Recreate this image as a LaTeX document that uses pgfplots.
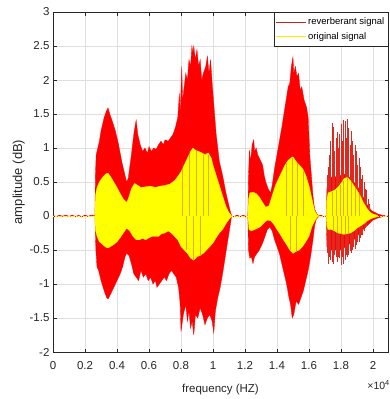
\documentclass[border=0pt]{standalone}
\usepackage{fontspec}
\setmainfont{Liberation Sans}
\usepackage{pgfplots}
\pgfplotsset{compat=1.18}
\definecolor{axgray}{HTML}{262626}
\definecolor{gridgray}{HTML}{DFDFDF}
\definecolor{sigred}{HTML}{FF0000}
\definecolor{sigyel}{HTML}{FFFF00}
\definecolor{spk}{HTML}{E0281E}
\definecolor{spkin}{HTML}{C84A28}
\definecolor{legred}{HTML}{C8201E}
\definecolor{legyel}{HTML}{F0F000}
\begin{document}
\begin{tikzpicture}
\useasboundingbox (-53pt,-47pt) rectangle (337pt,352pt);
\begin{axis}[
  scale only axis, width=335pt, height=340pt,
  xmin=0, xmax=2.094, ymin=-2, ymax=3,
  xtick={0,0.2,...,2.01}, ytick={-2,-1.5,...,3},
  xticklabels={0,0.2,0.4,0.6,0.8,1,1.2,1.4,1.6,1.8,2},
  yticklabels={-2,-1.5,-1,-0.5,0,0.5,1,1.5,2,2.5,3},
  tick align=inside, major tick length=3.5pt,
  xtick pos=both, ytick pos=both,
  grid=major, major grid style={gridgray, line width=0.5pt},
  axis line style={axgray, line width=0.6pt},
  tick style={axgray, line width=0.5pt},
  ticklabel style={font=\fontsize{11.5}{13}\selectfont, text=axgray},
  xticklabel style={yshift=-6pt},
  /pgf/number format/assume math mode=true,
  xlabel={frequency (HZ)}, ylabel={amplitude (dB)},
  xlabel style={font=\fontsize{11.5}{13}\selectfont, text=axgray, yshift=-8pt},
  ylabel style={font=\fontsize{13}{15}\selectfont, text=axgray, yshift=-2pt},
  legend style={at={(rel axis cs:1,1)}, anchor=north east, draw=axgray, line width=0.5pt,
    fill=white, font=\fontsize{9.5}{11}\selectfont, inner xsep=2pt, inner ysep=4pt,
    row sep=3pt, nodes={inner sep=1.5pt}},
  legend cell align=left,
  clip=true,
]
% red envelope, segment 1
\addplot[fill=sigred, draw=sigred, line width=0.3pt, forget plot] coordinates {
(0.262,0.02)(0.265,0.6)(0.27,0.9)(0.28,1.0)(0.29,1.1)(0.30,1.25)(0.31,1.35)(0.32,1.45)(0.335,1.55)(0.344,1.59)(0.355,1.5)(0.37,1.4)(0.39,1.25)(0.41,1.05)(0.43,0.8)(0.45,0.6)(0.46,0.5)(0.47,0.55)(0.49,0.9)(0.505,1.2)(0.515,1.35)(0.52,1.41)(0.53,1.2)(0.545,1.05)(0.56,0.95)(0.575,1.0)(0.59,0.92)(0.60,1.02)(0.615,0.95)(0.63,1.0)(0.645,0.98)(0.66,1.05)(0.675,1.1)(0.69,1.05)(0.70,1.12)(0.72,1.1)(0.735,1.15)(0.75,1.2)(0.765,1.3)(0.78,1.45)(0.79,1.8)(0.795,1.5)(0.805,2.2)(0.81,1.7)(0.82,1.9)(0.83,2.1)(0.84,2.0)(0.85,2.3)(0.86,2.2)(0.868,2.5)(0.875,2.4)(0.88,2.5)(0.89,2.3)(0.90,2.45)(0.91,2.2)(0.92,2.3)(0.93,2.0)(0.94,2.1)(0.955,2.2)(0.965,2.35)(0.975,2.1)(0.985,2.3)(0.995,1.95)(1.0,1.8)(1.01,1.5)(1.02,1.2)(1.03,1.0)(1.04,0.8)(1.06,0.6)(1.08,0.35)(1.10,0.15)(1.11,0.05)(1.115,0.02)
(1.115,-0.02)(1.11,-0.1)(1.09,-0.4)(1.07,-0.7)(1.06,-0.85)(1.045,-1.05)(1.03,-1.2)(1.015,-1.4)(1.005,-1.72)(0.995,-1.55)(0.98,-1.45)(0.965,-1.5)(0.95,-1.6)(0.935,-1.45)(0.92,-1.35)(0.905,-1.5)(0.89,-1.45)(0.88,-1.75)(0.87,-1.55)(0.86,-1.65)(0.85,-1.4)(0.84,-1.55)(0.83,-1.3)(0.815,-1.45)(0.80,-1.7)(0.795,-1.3)(0.785,-1.05)(0.77,-0.9)(0.755,-0.85)(0.74,-0.8)(0.725,-0.85)(0.71,-0.95)(0.695,-0.9)(0.68,-0.95)(0.665,-1.0)(0.65,-1.05)(0.64,-0.95)(0.625,-1.0)(0.61,-0.9)(0.595,-0.95)(0.58,-0.85)(0.565,-0.9)(0.55,-0.8)(0.535,-0.95)(0.52,-0.9)(0.505,-0.85)(0.49,-0.7)(0.475,-0.58)(0.46,-0.55)(0.45,-0.6)(0.435,-0.75)(0.42,-0.85)(0.40,-0.95)(0.38,-1.05)(0.36,-1.15)(0.345,-1.22)(0.335,-1.2)(0.32,-1.1)(0.30,-0.95)(0.285,-0.8)(0.275,-0.75)(0.268,-0.5)(0.262,-0.02)
} -- cycle;
% red envelope, segment 2
\addplot[fill=sigred, draw=sigred, line width=0.3pt, forget plot] coordinates {
(1.218,0.02)(1.222,0.6)(1.228,0.97)(1.235,0.8)(1.245,1.05)(1.255,1.12)(1.26,0.95)(1.27,1.0)(1.28,0.9)(1.29,0.85)(1.30,0.8)(1.31,0.75)(1.32,0.6)(1.33,0.5)(1.345,0.4)(1.36,0.34)(1.37,0.45)(1.385,0.7)(1.40,0.9)(1.415,1.1)(1.43,1.3)(1.44,1.45)(1.45,1.6)(1.46,1.75)(1.47,1.9)(1.48,1.95)(1.49,2.2)(1.50,2.34)(1.505,2.1)(1.515,2.2)(1.525,2.05)(1.535,2.1)(1.545,1.85)(1.555,1.9)(1.57,1.7)(1.585,1.6)(1.595,1.45)(1.605,0.9)(1.615,0.6)(1.625,0.3)(1.635,0.1)(1.65,0.03)(1.66,0.01)
(1.66,-0.01)(1.645,-0.05)(1.635,-0.15)(1.625,-0.35)(1.61,-0.6)(1.595,-0.8)(1.58,-0.95)(1.565,-1.1)(1.55,-1.2)(1.535,-1.3)(1.52,-1.25)(1.505,-1.45)(1.495,-1.5)(1.485,-1.3)(1.475,-1.2)(1.46,-1.0)(1.445,-0.85)(1.43,-0.7)(1.415,-0.55)(1.40,-0.45)(1.385,-0.35)(1.37,-0.22)(1.355,-0.16)(1.34,-0.2)(1.325,-0.3)(1.31,-0.4)(1.29,-0.5)(1.275,-0.55)(1.26,-0.6)(1.25,-0.7)(1.24,-0.6)(1.23,-0.62)(1.222,-0.5)(1.218,-0.02)
} -- cycle;
% red envelope, segment 3 (solid core)
\addplot[fill=sigred, draw=sigred, line width=0.3pt, forget plot] coordinates {
(1.708,0.02)(1.712,0.4)(1.72,0.55)(1.75,0.58)(1.78,0.58)(1.80,0.6)(1.83,0.62)(1.86,0.55)(1.90,0.45)(1.93,0.32)(1.96,0.18)(1.99,0.08)(2.03,0.03)(2.06,0.01)
(2.06,-0.01)(2.03,-0.03)(2.0,-0.06)(1.96,-0.15)(1.93,-0.22)(1.90,-0.3)(1.86,-0.4)(1.83,-0.45)(1.80,-0.5)(1.75,-0.5)(1.72,-0.5)(1.712,-0.45)(1.708,-0.02)
} -- cycle;
% noise (reverberant)
\addplot[sigred, line width=0.8pt, forget plot] coordinates {
(0,0.005)(0.02,-0.01)(0.04,0.01)(0.06,-0.005)(0.08,0.012)(0.10,-0.008)(0.12,0.01)(0.14,-0.01)(0.16,0.008)(0.18,-0.012)(0.20,0.01)(0.22,-0.006)(0.24,0.012)(0.262,0)
};
\addplot[sigred, line width=0.8pt, forget plot] coordinates {
(1.115,0)(1.13,-0.01)(1.15,0.01)(1.17,-0.008)(1.19,0.01)(1.205,-0.01)(1.218,0)
};
\addplot[sigred, line width=0.8pt, forget plot] coordinates {
(1.66,0)(1.675,0.01)(1.69,-0.01)(1.708,0)
};
\addplot[sigred, line width=0.8pt, forget plot] coordinates {
(2.06,0)(2.07,0.008)(2.08,-0.008)(2.094,0)
};
% segment 3 spikes (reverberant)
\addplot[ycomb, spk, line width=0.55pt, mark=none, forget plot] coordinates {
(1.712,0.6)(1.720,0.72)(1.728,0.9)(1.736,1.1)(1.744,1.37)(1.752,1.31)(1.760,0.95)(1.768,1.15)(1.776,1.23)(1.784,1.0)(1.792,1.2)(1.800,1.35)(1.808,1.1)(1.816,1.41)(1.824,1.40)(1.832,1.15)(1.840,1.42)(1.848,1.3)(1.856,1.05)(1.864,1.25)(1.872,1.1)(1.880,0.9)(1.888,1.05)(1.896,0.95)(1.904,0.75)(1.912,0.85)(1.920,0.72)(1.928,0.55)(1.936,0.6)(1.944,0.5)(1.952,0.4)(1.960,0.38)(1.968,0.25)(1.976,0.18)
};
\addplot[ycomb, spk, line width=0.55pt, mark=none, forget plot] coordinates {
(1.712,-0.55)(1.720,-0.7)(1.728,-0.6)(1.736,-0.65)(1.744,-0.68)(1.752,-0.7)(1.760,-0.58)(1.768,-0.6)(1.776,-0.68)(1.784,-0.6)(1.792,-0.62)(1.800,-0.72)(1.808,-0.6)(1.816,-0.7)(1.824,-0.65)(1.832,-0.58)(1.840,-0.6)(1.848,-0.58)(1.856,-0.52)(1.864,-0.55)(1.872,-0.5)(1.880,-0.45)(1.888,-0.48)(1.896,-0.42)(1.904,-0.38)(1.912,-0.38)(1.920,-0.32)(1.928,-0.28)(1.936,-0.28)(1.944,-0.22)(1.952,-0.18)(1.960,-0.15)
};
% yellow envelope, segment 1
\addplot[fill=sigyel, draw=sigyel, line width=0.2pt, forget plot] coordinates {
(0.262,0.02)(0.265,0.3)(0.275,0.42)(0.29,0.5)(0.31,0.57)(0.33,0.62)(0.344,0.63)(0.36,0.58)(0.38,0.5)(0.40,0.42)(0.42,0.33)(0.44,0.25)(0.46,0.2)(0.47,0.25)(0.49,0.4)(0.51,0.48)(0.53,0.45)(0.55,0.42)(0.58,0.43)(0.61,0.44)(0.64,0.42)(0.67,0.44)(0.70,0.45)(0.73,0.47)(0.76,0.52)(0.78,0.58)(0.80,0.65)(0.82,0.75)(0.84,0.85)(0.86,0.95)(0.875,1.0)(0.89,0.97)(0.91,0.95)(0.93,0.93)(0.95,0.9)(0.97,0.93)(0.99,0.85)(1.0,0.75)(1.02,0.6)(1.04,0.45)(1.06,0.3)(1.08,0.15)(1.10,0.05)(1.115,0.01)
(1.115,-0.01)(1.10,-0.05)(1.08,-0.12)(1.06,-0.2)(1.04,-0.25)(1.02,-0.32)(1.0,-0.4)(0.98,-0.45)(0.96,-0.5)(0.94,-0.55)(0.92,-0.58)(0.90,-0.6)(0.88,-0.65)(0.86,-0.62)(0.84,-0.55)(0.82,-0.5)(0.80,-0.45)(0.78,-0.35)(0.76,-0.3)(0.74,-0.25)(0.72,-0.22)(0.70,-0.25)(0.68,-0.26)(0.66,-0.3)(0.64,-0.3)(0.62,-0.3)(0.60,-0.32)(0.58,-0.35)(0.56,-0.33)(0.54,-0.35)(0.52,-0.35)(0.50,-0.3)(0.48,-0.22)(0.46,-0.18)(0.44,-0.25)(0.42,-0.32)(0.40,-0.38)(0.38,-0.42)(0.36,-0.45)(0.345,-0.47)(0.33,-0.46)(0.31,-0.42)(0.29,-0.38)(0.275,-0.3)(0.265,-0.2)(0.262,-0.01)
} -- cycle;
% yellow envelope, segment 2
\addplot[fill=sigyel, draw=sigyel, line width=0.2pt, forget plot] coordinates {
(1.218,0.01)(1.222,0.25)(1.23,0.34)(1.25,0.35)(1.27,0.33)(1.29,0.28)(1.31,0.2)(1.33,0.13)(1.35,0.15)(1.37,0.3)(1.39,0.45)(1.41,0.55)(1.43,0.65)(1.45,0.75)(1.47,0.82)(1.49,0.86)(1.50,0.87)(1.52,0.8)(1.54,0.75)(1.56,0.7)(1.58,0.6)(1.60,0.45)(1.62,0.24)(1.635,0.08)(1.65,0.02)(1.66,0.005)
(1.66,-0.005)(1.65,-0.02)(1.635,-0.08)(1.62,-0.15)(1.60,-0.3)(1.58,-0.38)(1.56,-0.45)(1.54,-0.5)(1.52,-0.52)(1.50,-0.55)(1.48,-0.5)(1.46,-0.42)(1.44,-0.35)(1.42,-0.27)(1.40,-0.2)(1.38,-0.12)(1.36,-0.07)(1.34,-0.06)(1.32,-0.1)(1.30,-0.15)(1.28,-0.18)(1.26,-0.2)(1.24,-0.22)(1.225,-0.2)(1.218,-0.01)
} -- cycle;
% yellow envelope, segment 3
\addplot[fill=sigyel, draw=sigyel, line width=0.2pt, forget plot] coordinates {
(1.708,0.01)(1.712,0.25)(1.72,0.34)(1.74,0.36)(1.76,0.38)(1.78,0.42)(1.80,0.48)(1.82,0.55)(1.84,0.57)(1.86,0.52)(1.88,0.45)(1.90,0.38)(1.92,0.3)(1.94,0.2)(1.96,0.12)(1.98,0.06)(2.0,0.03)(2.03,0.01)
(2.03,-0.01)(2.0,-0.03)(1.98,-0.05)(1.96,-0.08)(1.94,-0.12)(1.92,-0.15)(1.90,-0.18)(1.88,-0.22)(1.86,-0.25)(1.84,-0.26)(1.82,-0.27)(1.80,-0.26)(1.78,-0.25)(1.76,-0.22)(1.74,-0.2)(1.72,-0.2)(1.712,-0.15)(1.708,-0.01)
} -- cycle;
% noise (original), dashed over red
\addplot[sigyel, line width=0.6pt, dash pattern=on 1.5pt off 1pt, forget plot] coordinates {(0,0)(0.262,0)};
\addplot[sigyel, line width=0.6pt, dash pattern=on 1.5pt off 1pt, forget plot] coordinates {(1.115,0)(1.218,0)};
\addplot[sigyel, line width=0.6pt, dash pattern=on 1.5pt off 1pt, forget plot] coordinates {(1.66,0)(1.708,0)};
\addplot[sigyel, line width=0.6pt, dash pattern=on 1.5pt off 1pt, forget plot] coordinates {(2.03,0)(2.094,0)};
% dark spikes visible through the yellow
\addplot[ycomb, spkin, line width=0.35pt, opacity=0.45, mark=none, forget plot] coordinates {
(0.808,0.8)(0.852,0.95)(0.897,0.97)(0.938,0.9)(0.972,0.9)
(1.455,0.78)(1.492,0.86)(1.528,0.8)(1.565,0.66)
(1.744,0.36)(1.768,0.38)(1.792,0.45)(1.816,0.52)(1.840,0.57)(1.864,0.52)(1.888,0.44)(1.912,0.35)
};
\addplot[ycomb, spkin, line width=0.35pt, opacity=0.45, mark=none, forget plot] coordinates {
(0.83,-0.5)(0.875,-0.64)(0.92,-0.58)
(1.48,-0.5)(1.52,-0.52)
(1.752,-0.21)(1.776,-0.25)(1.800,-0.26)(1.824,-0.27)(1.848,-0.25)
};
\addlegendimage{legend image code/.code={\draw[draw=legred, line width=0.7pt] (0pt,0pt) -- (30pt,0pt);}}
\addlegendentry{reverberant signal}
\addlegendimage{legend image code/.code={\draw[draw=legyel, line width=0.7pt] (0pt,0pt) -- (30pt,0pt);}}
\addlegendentry{original signal}
\end{axis}
\node[anchor=north east, inner sep=0pt, text=axgray, font=\fontsize{10.5}{12}\selectfont] at (337pt,-28pt) {×10\textsuperscript{4}};
\end{tikzpicture}
\end{document}
